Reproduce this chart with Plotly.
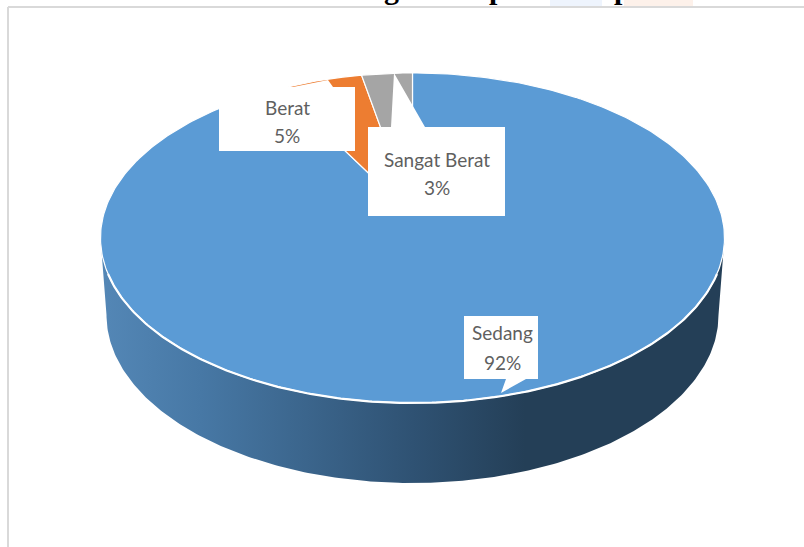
import numpy as np
import plotly.graph_objects as go

# Pie data
categories = ["Sedang", "Berat", "Sangat Berat"]
values = [92, 5, 3]
colors = ["#5B9BD5", "#ED7D31", "#A5A5A5"]

# Label placement (box left, top, right, bottom; tail base x0, x1; tail tip x, y; line centres)
callouts = {
    "Sedang": dict(box=(464, 316, 538, 379), tail=(506, 526, 501, 393), lines=(332, 362), cx=502),
    "Berat": dict(box=(219, 87, 355, 151), tail=(293, 333, 328, 80), lines=(107, 135), cx=287),
    "Sangat Berat": dict(box=(368, 127, 505, 216), tail=(391, 425, 394, 73), lines=(159, 187), cx=437),
}

# Projected disc: perspective pushes the pie centre above the middle of the ellipse
CX, CY, RX, RY = 412.5, 238, 312, 165
PERSP = 0.139
APEX = 23
SCALE_X = RX * np.sqrt(1 - PERSP ** 2)


def project(theta):
    u, v = np.sin(theta), np.cos(theta)
    w = 1 + PERSP * v
    return CX + SCALE_X * u / w, CY - (RY * v + APEX) / w


def ellipse(cx, cy, rx, ry, a0, a1, n=240):
    t = np.linspace(a0, a1, n)
    return cx + rx * np.cos(t), cy + ry * np.sin(t)


fig = go.Figure()

# Side wall, between the front of the top face and the lower rim
top_x, top_y = ellipse(CX, CY, RX, RY, np.pi, 0)
low_x, low_y = ellipse(CX, 315, 306, 168, 0, np.pi)
fig.add_trace(go.Scatter(
    x=np.r_[top_x, low_x], y=np.r_[top_y, low_y],
    mode="lines", line=dict(width=0), fill="toself",
    fillgradient=dict(
        type="horizontal",
        colorscale=[[0, "#5487B6"], [0.16, "#4778A5"], [0.5, "#2F5273"],
                    [0.68, "#243F57"], [1, "#243F57"]],
    ),
    hoverinfo="skip", showlegend=False,
))

# Top face slices, clockwise from twelve o'clock
edges = np.cumsum([0] + values) / sum(values) * 2 * np.pi
centre_x, centre_y = CX, CY - APEX
for name, color, a0, a1 in zip(categories, colors, edges[:-1], edges[1:]):
    xs, ys = project(np.linspace(a0, a1, 360))
    fig.add_trace(go.Scatter(
        x=np.r_[centre_x, xs, centre_x], y=np.r_[centre_y, ys, centre_y],
        mode="lines", line=dict(color="#FFFFFF", width=1.2),
        fill="toself", fillcolor=color, name=name,
        hoverinfo="skip", showlegend=False,
    ))

# Heavier white rim along the front of the top face
rim_x, rim_y = ellipse(CX, CY, RX, RY, np.pi * 0.93, np.pi * 0.07)
fig.add_trace(go.Scatter(
    x=rim_x, y=rim_y, mode="lines", line=dict(color="#FFFFFF", width=2.2),
    hoverinfo="skip", showlegend=False,
))

shapes = [
    # Chart frame
    dict(type="line", x0=8, x1=804, y0=7, y1=7, line=dict(color="#D9D9D9", width=2)),
    dict(type="line", x0=8, x1=8, y0=7, y1=547, line=dict(color="#D9D9D9", width=2)),
    # Faint tints at the page top
    dict(type="rect", x0=550, x1=602, y0=0, y1=6, fillcolor="#EEF4FD", line_width=0),
    dict(type="rect", x0=624, x1=693, y0=0, y1=6, fillcolor="#FDF1EA", line_width=0),
]

annotations = []
for name, value in zip(categories, values):
    c = callouts[name]
    l, t, r, b = c["box"]
    t0, t1, tx, ty = c["tail"]
    if ty < t:
        path = f"M{l},{t} H{t0} L{tx},{ty} L{t1},{t} H{r} V{b} H{l} Z"
    else:
        path = f"M{l},{t} H{r} V{b} H{t1} L{tx},{ty} L{t0},{b} H{l} Z"
    shapes.append(dict(type="path", path=path, fillcolor="#FFFFFF", line_width=0))
    for text, y in zip((name, f"{value}%"), c["lines"]):
        annotations.append(dict(
            x=c["cx"], y=y, text=text, showarrow=False, xanchor="center", yanchor="middle",
            font=dict(family="Lato", size=19, color="#5F5F5F"),
        ))

# Lower part of the page heading running off the top edge
for letter, x in (("g", 391), ("p", 497), ("p", 622)):
    annotations.append(dict(
        x=x, y=7, text=letter, showarrow=False, xanchor="center", yanchor="bottom",
        font=dict(family="Liberation Serif", size=30, color="#000000", weight="bold"),
    ))

fig.update_layout(
    width=804, height=547, margin=dict(l=0, r=0, t=0, b=0),
    paper_bgcolor="#FFFFFF", plot_bgcolor="#FFFFFF",
    xaxis=dict(range=[0, 804], visible=False, fixedrange=True),
    yaxis=dict(range=[547, 0], visible=False, fixedrange=True),
    shapes=shapes, annotations=annotations,
)
fig.write_html("out.html")
